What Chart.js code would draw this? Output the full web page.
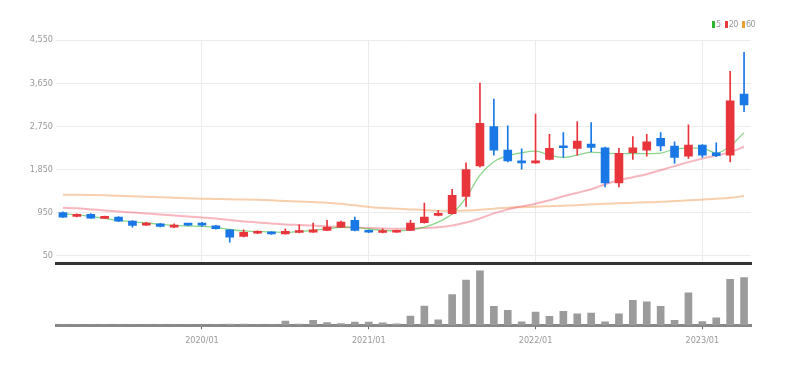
<!DOCTYPE html>
<html>
<head>
<meta charset="utf-8">
<script src="https://cdn.jsdelivr.net/npm/chart.js@4.4.0/dist/chart.umd.min.js"></script>
<style>
html, body { margin: 0; padding: 0; background: #fff; }
#wrap { position: relative; width: 790px; height: 365px; overflow: hidden; }
#priceBox { position: absolute; left: 0; top: 0; width: 790px; height: 272px; }
#volBox { position: absolute; left: 0; top: 258px; width: 790px; height: 107px; }
#legend { position: absolute; top: 19px; left: 708px; font: 9px 'Liberation Sans Narrow', 'DejaVu Sans Condensed', sans-serif; color: #999; white-space: nowrap; letter-spacing: -0.5px; }
#legend .sw { display: inline-block; width: 3px; height: 7px; margin: 0 1px 0 4px; vertical-align: -1px; }
</style>
</head>
<body>
<div id="wrap">
    <div id="priceBox"><canvas id="priceChart"></canvas></div>
    <div id="volBox"><canvas id="volChart"></canvas></div>
    <div id="legend"><span class="sw" style="background:#2cb52c"></span>5<span class="sw" style="background:#e8383d"></span>20<span class="sw" style="background:#f0a030"></span>60</div>
</div>

<script>
// monthly candles, 2019/03 .. 2023/04
var months = ['2019/03','2019/04','2019/05','2019/06','2019/07','2019/08','2019/09','2019/10','2019/11','2019/12',
    '2020/01','2020/02','2020/03','2020/04','2020/05','2020/06','2020/07','2020/08','2020/09','2020/10','2020/11','2020/12',
    '2021/01','2021/02','2021/03','2021/04','2021/05','2021/06','2021/07','2021/08','2021/09','2021/10','2021/11','2021/12',
    '2022/01','2022/02','2022/03','2022/04','2022/05','2022/06','2022/07','2022/08','2022/09','2022/10','2022/11','2022/12',
    '2023/01','2023/02','2023/03','2023/04'];

var opens  = [951,873,915,831,859,775,691,720,649,720,720,675,595,454,523,544,511,538,544,580,649,790,580,538,544,580,741,894,930,1292,1927,2744,2256,2032,1990,2061,2340,2292,2382,2304,1571,2200,2256,2501,2340,2130,2361,2200,2151,3423];
var highs  = [970,925,930,880,870,785,748,730,720,725,748,685,600,595,575,550,616,699,733,790,775,859,590,616,590,790,1152,999,1439,1990,3653,3318,2759,2283,3004,2585,2618,2849,2828,2320,2292,2535,2585,2618,2430,2780,2370,2409,3896,4294];
var lows   = [850,865,830,825,765,649,685,655,640,685,664,610,335,445,515,500,505,530,538,575,640,570,535,530,540,575,733,885,920,1083,1900,2151,2010,1858,1980,2050,2103,2151,2220,1487,1487,2061,2130,2241,1977,2082,2103,2116,2011,3058];
var closes = [859,915,838,873,775,685,720,664,685,691,691,616,440,544,565,511,565,580,595,649,754,580,544,580,580,733,859,930,1313,1852,2815,2256,2032,1990,2032,2292,2304,2445,2313,1571,2187,2304,2430,2340,2103,2361,2151,2137,3283,3199];

var ma5  = [930,905,873,831,790,758,737,706,685,674,664,643,601,570,559,548,538,559,580,611,643,643,611,580,570,591,649,754,930,1265,1732,2011,2137,2200,2235,2151,2103,2151,2214,2193,2183,2183,2183,2193,2277,2298,2298,2193,2340,2619];
var ma20 = [1056,1041,1020,999,978,957,936,915,894,873,852,831,800,769,748,727,706,695,685,664,653,643,632,622,616,622,632,649,685,748,831,936,1020,1083,1139,1209,1292,1366,1439,1544,1628,1690,1753,1837,1921,2005,2078,2141,2214,2325];
var ma60 = [1324,1324,1320,1313,1303,1292,1282,1271,1261,1250,1244,1236,1229,1225,1219,1208,1194,1183,1173,1156,1135,1104,1072,1051,1035,1020,1009,989,989,999,1014,1035,1056,1066,1077,1087,1097,1108,1125,1139,1146,1156,1167,1177,1194,1208,1223,1240,1261,1299];

var volumes = [0,0,0,0,0,0,0,0,0,0,0,0,1000,1000,0,0,4000,1000,4700,2700,1700,3000,3000,2300,1300,9000,19000,5300,30300,44700,53700,18700,14700,3300,13000,8700,13700,11300,12000,3300,11300,24700,23000,18700,4700,32000,3700,7300,45300,47000];

var priceTicks = [50, 950, 1850, 2750, 3650, 4550];

var fontFamily = "'Liberation Sans Narrow', 'DejaVu Sans Condensed', 'Liberation Sans', sans-serif";
var UP = '#e8353b', DOWN = '#1a78e6';

var candleColors = opens.map((o, i) => closes[i] >= o ? UP : DOWN);
var wicks = lows.map((l, i) => [l, highs[i]]);
var bodies = opens.map((o, i) => [o, closes[i]]);

function isJan(i) {
    return months[i] && months[i].endsWith('/01');
}

new Chart(document.getElementById('priceChart'), {
    type: 'bar',
    data: {
        labels: months,
        datasets: [
            { type: 'line', label: '5', data: ma5, borderColor: 'rgba(60,185,60,0.6)', borderWidth: 1.3, pointRadius: 0, tension: 0.4, cubicInterpolationMode: 'monotone', order: 3 },
            { type: 'line', label: '20', data: ma20, borderColor: 'rgba(240,90,110,0.45)', borderWidth: 2, pointRadius: 0, tension: 0.4, cubicInterpolationMode: 'monotone', order: 4 },
            { type: 'line', label: '60', data: ma60, borderColor: 'rgba(240,160,90,0.5)', borderWidth: 2, pointRadius: 0, tension: 0.4, cubicInterpolationMode: 'monotone', order: 5 },
            { label: 'wick', data: wicks, backgroundColor: candleColors, barThickness: 1, grouped: false, order: 2 },
            { label: 'body', data: bodies, backgroundColor: candleColors, barThickness: 8, minBarLength: 2, grouped: false, order: 1 }
        ]
    },
    options: {
        responsive: true,
        maintainAspectRatio: false,
        animation: false,
        layout: { padding: { top: 40, right: 39, bottom: 0, left: 0 } },
        plugins: { legend: { display: false }, tooltip: { enabled: false } },
        scales: {
            x: {
                ticks: { display: false, autoSkip: false },
                grid: {
                    offset: false,
                    drawTicks: false,
                    color: ctx => isJan(ctx.index) ? '#ebebeb' : 'rgba(0,0,0,0)'
                },
                border: { display: true, color: '#333', width: 3 }
            },
            y: {
                min: -110,
                max: 4550,
                afterBuildTicks: function (scale) {
                    scale.ticks = priceTicks.map(v => ({ value: v }));
                },
                afterFit: function (scale) {
                    scale.width = 56;
                },
                ticks: {
                    color: '#999',
                    font: { family: fontFamily, size: 9 },
                    padding: 3,
                    callback: v => v.toLocaleString('en-US')
                },
                grid: { color: '#ebebeb', drawTicks: false },
                border: { display: false }
            }
        }
    }
});

new Chart(document.getElementById('volChart'), {
    type: 'bar',
    data: {
        labels: months,
        datasets: [{ label: 'volume', data: volumes, backgroundColor: '#9b9b9b', barThickness: 7 }]
    },
    options: {
        responsive: true,
        maintainAspectRatio: false,
        animation: false,
        layout: { padding: { top: 5, right: 39, bottom: 13, left: 56 } },
        plugins: { legend: { display: false }, tooltip: { enabled: false } },
        scales: {
            x: {
                ticks: {
                    autoSkip: false,
                    maxRotation: 0,
                    color: '#999',
                    padding: 6,
                    font: { family: fontFamily, size: 9 },
                    callback: (v, i) => isJan(i) ? months[i] : ''
                },
                grid: {
                    drawOnChartArea: false,
                    offset: false,
                    tickLength: 4,
                    color: ctx => isJan(ctx.index) ? '#666' : 'rgba(0,0,0,0)'
                },
                border: { color: '#888', width: 3 }
            },
            y: { display: false, min: 0, max: 61500 }
        }
    }
});
</script>
</body>
</html>
